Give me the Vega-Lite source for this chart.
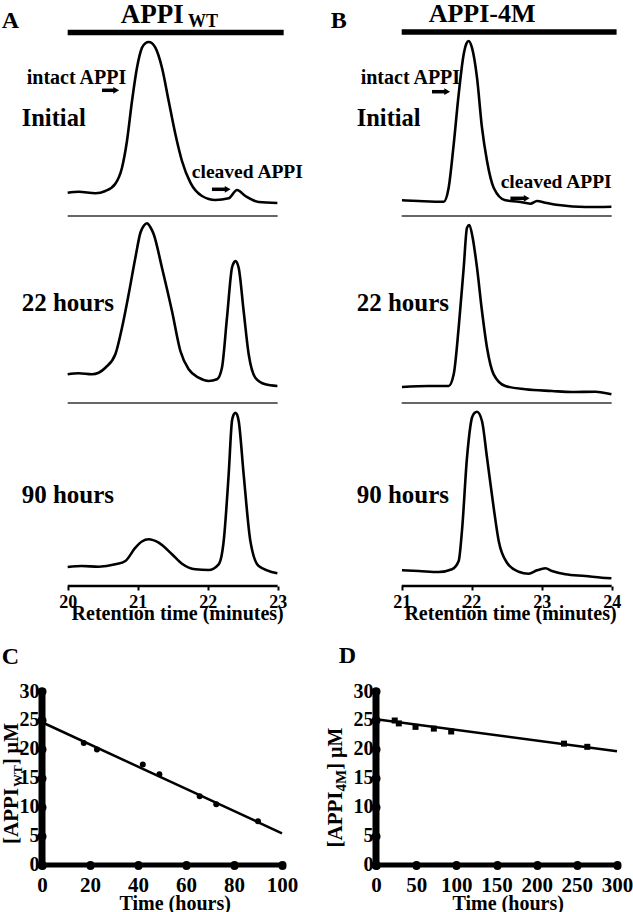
{
"$schema": "https://vega.github.io/schema/vega-lite/v6.json",
"padding": 0,
"background": "white",
"config": {
  "view": {"stroke": null},
  "font": "Liberation Serif",
  "axis": {"labelFont": "Liberation Serif", "titleFont": "Liberation Serif", "labelFontWeight": "bold", "titleFontWeight": "bold", "labelColor": "black", "titleColor": "black", "grid": false, "labelOverlap": false, "labelFlush": false, "labelBound": false},
  "text": {"font": "Liberation Serif", "fontWeight": "bold", "color": "black"}
},
"datasets": {
  "traces": [
    {"variant":"WT","sample":"Initial","rt":20.000,"au":23.3},{"variant":"WT","sample":"Initial","rt":20.157,"au":24.3},{"variant":"WT","sample":"Initial","rt":20.396,"au":22.7},{"variant":"WT","sample":"Initial","rt":20.539,"au":25},{"variant":"WT","sample":"Initial","rt":20.681,"au":32.3},{"variant":"WT","sample":"Initial","rt":20.776,"au":48.3},{"variant":"WT","sample":"Initial","rt":20.847,"au":75},{"variant":"WT","sample":"Initial","rt":20.919,"au":115},{"variant":"WT","sample":"Initial","rt":20.990,"au":148.3},{"variant":"WT","sample":"Initial","rt":21.061,"au":168.3},{"variant":"WT","sample":"Initial","rt":21.110,"au":172.8},{"variant":"WT","sample":"Initial","rt":21.157,"au":174},{"variant":"WT","sample":"Initial","rt":21.205,"au":172.8},{"variant":"WT","sample":"Initial","rt":21.253,"au":168.3},{"variant":"WT","sample":"Initial","rt":21.347,"au":148.3},{"variant":"WT","sample":"Initial","rt":21.443,"au":115},{"variant":"WT","sample":"Initial","rt":21.539,"au":81.7},{"variant":"WT","sample":"Initial","rt":21.633,"au":55},{"variant":"WT","sample":"Initial","rt":21.753,"au":33.3},{"variant":"WT","sample":"Initial","rt":21.919,"au":20},{"variant":"WT","sample":"Initial","rt":22.110,"au":16},{"variant":"WT","sample":"Initial","rt":22.300,"au":17.7},{"variant":"WT","sample":"Initial","rt":22.419,"au":26},{"variant":"WT","sample":"Initial","rt":22.539,"au":20},{"variant":"WT","sample":"Initial","rt":22.729,"au":14},{"variant":"WT","sample":"Initial","rt":22.996,"au":13},
    {"variant":"WT","sample":"22 hours","rt":20.000,"au":28.7},{"variant":"WT","sample":"22 hours","rt":20.157,"au":29.7},{"variant":"WT","sample":"22 hours","rt":20.347,"au":28.7},{"variant":"WT","sample":"22 hours","rt":20.539,"au":35.3},{"variant":"WT","sample":"22 hours","rt":20.681,"au":48.7},{"variant":"WT","sample":"22 hours","rt":20.776,"au":75.3},{"variant":"WT","sample":"22 hours","rt":20.871,"au":108.7},{"variant":"WT","sample":"22 hours","rt":20.967,"au":145.3},{"variant":"WT","sample":"22 hours","rt":21.040,"au":170.5},{"variant":"WT","sample":"22 hours","rt":21.090,"au":177.5},{"variant":"WT","sample":"22 hours","rt":21.133,"au":179.7},{"variant":"WT","sample":"22 hours","rt":21.180,"au":176},{"variant":"WT","sample":"22 hours","rt":21.229,"au":168.7},{"variant":"WT","sample":"22 hours","rt":21.347,"au":135.3},{"variant":"WT","sample":"22 hours","rt":21.490,"au":92},{"variant":"WT","sample":"22 hours","rt":21.610,"au":52},{"variant":"WT","sample":"22 hours","rt":21.729,"au":33.7},{"variant":"WT","sample":"22 hours","rt":21.871,"au":25.3},{"variant":"WT","sample":"22 hours","rt":22.014,"au":22},{"variant":"WT","sample":"22 hours","rt":22.133,"au":23.7},{"variant":"WT","sample":"22 hours","rt":22.204,"au":35.3},{"variant":"WT","sample":"22 hours","rt":22.276,"au":85.3},{"variant":"WT","sample":"22 hours","rt":22.347,"au":135.3},{"variant":"WT","sample":"22 hours","rt":22.375,"au":140.5},{"variant":"WT","sample":"22 hours","rt":22.396,"au":142},{"variant":"WT","sample":"22 hours","rt":22.418,"au":140.5},{"variant":"WT","sample":"22 hours","rt":22.443,"au":135.3},{"variant":"WT","sample":"22 hours","rt":22.514,"au":92},{"variant":"WT","sample":"22 hours","rt":22.586,"au":48.7},{"variant":"WT","sample":"22 hours","rt":22.681,"au":25.3},{"variant":"WT","sample":"22 hours","rt":22.824,"au":18.7},{"variant":"WT","sample":"22 hours","rt":22.996,"au":17},
    {"variant":"WT","sample":"90 hours","rt":20.000,"au":19},{"variant":"WT","sample":"90 hours","rt":20.204,"au":20},{"variant":"WT","sample":"90 hours","rt":20.443,"au":19.3},{"variant":"WT","sample":"90 hours","rt":20.681,"au":21.7},{"variant":"WT","sample":"90 hours","rt":20.824,"au":25},{"variant":"WT","sample":"90 hours","rt":20.967,"au":38.3},{"variant":"WT","sample":"90 hours","rt":21.060,"au":44.5},{"variant":"WT","sample":"90 hours","rt":21.157,"au":46.7},{"variant":"WT","sample":"90 hours","rt":21.300,"au":43.3},{"variant":"WT","sample":"90 hours","rt":21.490,"au":31.7},{"variant":"WT","sample":"90 hours","rt":21.633,"au":22.3},{"variant":"WT","sample":"90 hours","rt":21.824,"au":16.7},{"variant":"WT","sample":"90 hours","rt":22.014,"au":16},{"variant":"WT","sample":"90 hours","rt":22.157,"au":21.7},{"variant":"WT","sample":"90 hours","rt":22.229,"au":45},{"variant":"WT","sample":"90 hours","rt":22.300,"au":111.7},{"variant":"WT","sample":"90 hours","rt":22.347,"au":165},{"variant":"WT","sample":"90 hours","rt":22.372,"au":171.5},{"variant":"WT","sample":"90 hours","rt":22.396,"au":173.3},{"variant":"WT","sample":"90 hours","rt":22.420,"au":171.5},{"variant":"WT","sample":"90 hours","rt":22.443,"au":165},{"variant":"WT","sample":"90 hours","rt":22.514,"au":111.7},{"variant":"WT","sample":"90 hours","rt":22.610,"au":45},{"variant":"WT","sample":"90 hours","rt":22.729,"au":20},{"variant":"WT","sample":"90 hours","rt":22.996,"au":12.7},
    {"variant":"4M","sample":"Initial","rt":21.004,"au":15.7},{"variant":"4M","sample":"Initial","rt":21.243,"au":15},{"variant":"4M","sample":"Initial","rt":21.600,"au":14.3},{"variant":"4M","sample":"Initial","rt":21.671,"au":28.3},{"variant":"4M","sample":"Initial","rt":21.743,"au":71.7},{"variant":"4M","sample":"Initial","rt":21.814,"au":121.7},{"variant":"4M","sample":"Initial","rt":21.886,"au":161.7},{"variant":"4M","sample":"Initial","rt":21.925,"au":172.5},{"variant":"4M","sample":"Initial","rt":21.957,"au":175},{"variant":"4M","sample":"Initial","rt":22.004,"au":168.3},{"variant":"4M","sample":"Initial","rt":22.076,"au":138.3},{"variant":"4M","sample":"Initial","rt":22.147,"au":88.3},{"variant":"4M","sample":"Initial","rt":22.219,"au":55},{"variant":"4M","sample":"Initial","rt":22.314,"au":28.3},{"variant":"4M","sample":"Initial","rt":22.481,"au":15.7},{"variant":"4M","sample":"Initial","rt":22.671,"au":14.3},{"variant":"4M","sample":"Initial","rt":22.839,"au":12.3},{"variant":"4M","sample":"Initial","rt":22.933,"au":15},{"variant":"4M","sample":"Initial","rt":23.053,"au":13.3},{"variant":"4M","sample":"Initial","rt":23.243,"au":11},{"variant":"4M","sample":"Initial","rt":23.624,"au":9},{"variant":"4M","sample":"Initial","rt":23.996,"au":9.3},
    {"variant":"4M","sample":"22 hours","rt":21.004,"au":16},{"variant":"4M","sample":"22 hours","rt":21.386,"au":17},{"variant":"4M","sample":"22 hours","rt":21.671,"au":17},{"variant":"4M","sample":"22 hours","rt":21.743,"au":28.7},{"variant":"4M","sample":"22 hours","rt":21.814,"au":75.3},{"variant":"4M","sample":"22 hours","rt":21.886,"au":135.3},{"variant":"4M","sample":"22 hours","rt":21.933,"au":175.3},{"variant":"4M","sample":"22 hours","rt":21.967,"au":178},{"variant":"4M","sample":"22 hours","rt":22.014,"au":165.3},{"variant":"4M","sample":"22 hours","rt":22.076,"au":135.3},{"variant":"4M","sample":"22 hours","rt":22.147,"au":92},{"variant":"4M","sample":"22 hours","rt":22.219,"au":55.3},{"variant":"4M","sample":"22 hours","rt":22.314,"au":28.7},{"variant":"4M","sample":"22 hours","rt":22.481,"au":17},{"variant":"4M","sample":"22 hours","rt":22.767,"au":13.7},{"variant":"4M","sample":"22 hours","rt":23.147,"au":12},{"variant":"4M","sample":"22 hours","rt":23.433,"au":11},{"variant":"4M","sample":"22 hours","rt":23.767,"au":11.3},{"variant":"4M","sample":"22 hours","rt":23.996,"au":8.7},
    {"variant":"4M","sample":"90 hours","rt":21.004,"au":15.7},{"variant":"4M","sample":"90 hours","rt":21.243,"au":15},{"variant":"4M","sample":"90 hours","rt":21.529,"au":14},{"variant":"4M","sample":"90 hours","rt":21.719,"au":16.7},{"variant":"4M","sample":"90 hours","rt":21.814,"au":25},{"variant":"4M","sample":"90 hours","rt":21.861,"au":55},{"variant":"4M","sample":"90 hours","rt":21.933,"au":128.3},{"variant":"4M","sample":"90 hours","rt":22.004,"au":168.3},{"variant":"4M","sample":"90 hours","rt":22.040,"au":173},{"variant":"4M","sample":"90 hours","rt":22.076,"au":174.3},{"variant":"4M","sample":"90 hours","rt":22.147,"au":165},{"variant":"4M","sample":"90 hours","rt":22.219,"au":128.3},{"variant":"4M","sample":"90 hours","rt":22.314,"au":78.3},{"variant":"4M","sample":"90 hours","rt":22.386,"au":45},{"variant":"4M","sample":"90 hours","rt":22.504,"au":23.3},{"variant":"4M","sample":"90 hours","rt":22.671,"au":14.3},{"variant":"4M","sample":"90 hours","rt":22.814,"au":12.3},{"variant":"4M","sample":"90 hours","rt":22.933,"au":15.7},{"variant":"4M","sample":"90 hours","rt":23.053,"au":17.7},{"variant":"4M","sample":"90 hours","rt":23.147,"au":15},{"variant":"4M","sample":"90 hours","rt":23.339,"au":11.7},{"variant":"4M","sample":"90 hours","rt":23.624,"au":10},{"variant":"4M","sample":"90 hours","rt":23.861,"au":8.3},{"variant":"4M","sample":"90 hours","rt":23.996,"au":7.7}
  ],
  "kinetics": [
    {"variant":"WT","time_h":0,"conc_uM":24.8},{"variant":"WT","time_h":17.4,"conc_uM":21.0},{"variant":"WT","time_h":22.9,"conc_uM":19.9},{"variant":"WT","time_h":42,"conc_uM":17.3},{"variant":"WT","time_h":48.9,"conc_uM":15.6},{"variant":"WT","time_h":65.7,"conc_uM":11.8},{"variant":"WT","time_h":72.6,"conc_uM":10.4},{"variant":"WT","time_h":90,"conc_uM":7.5},
    {"variant":"4M","time_h":0,"conc_uM":25.0},{"variant":"4M","time_h":23.3,"conc_uM":24.9},{"variant":"4M","time_h":28.4,"conc_uM":24.4},{"variant":"4M","time_h":49.2,"conc_uM":23.8},{"variant":"4M","time_h":72,"conc_uM":23.5},{"variant":"4M","time_h":93.6,"conc_uM":23.0},{"variant":"4M","time_h":234,"conc_uM":20.9},{"variant":"4M","time_h":263,"conc_uM":20.35}
  ],
  "fits": [
    {"variant":"WT","time_h":0,"conc_uM":24.6},{"variant":"WT","time_h":100,"conc_uM":5.4},
    {"variant":"4M","time_h":0,"conc_uM":25.1},{"variant":"4M","time_h":300,"conc_uM":19.6}
  ]
},
"columns": 2,
"spacing": {"row": 0, "column": 94},
"bounds": "flush",
"concat": [
  {"width": 240, "height": 185, "layer": [
    {"data": {"name": "traces"}, "transform": [{"filter": "datum.variant === 'WT' && datum.sample === 'Initial'"}], "mark": {"type": "line", "interpolate": "monotone", "color": "black", "strokeWidth": 2.6}, "encoding": {"x": {"field": "rt", "type": "quantitative", "scale": {"domain": [19.633, 23.062], "nice": false}, "axis": null}, "y": {"field": "au", "type": "quantitative", "scale": {"domain": [0, 185], "nice": false}, "axis": null}}},
    {"data": {"values": [{}]}, "mark": {"type": "rule", "color": "black", "strokeWidth": 5.5}, "encoding": {"x": {"datum": 20, "axis": null}, "x2": {"datum": 23.086}, "y": {"datum": 183.5, "axis": null}}},
    {"data": {"values": [{}]}, "mark": {"type": "text", "text": "A", "fontSize": 24, "align": "left", "baseline": "alphabetic"}, "encoding": {"x": {"datum": 19.057, "axis": null}, "y": {"datum": 188, "axis": null}}},
    {"data": {"values": [{}]}, "mark": {"type": "text", "text": "APPI", "fontSize": 27, "align": "left", "baseline": "alphabetic"}, "encoding": {"x": {"datum": 20.757, "axis": null}, "y": {"datum": 193.3, "axis": null}}},
    {"data": {"values": [{}]}, "mark": {"type": "text", "text": "WT", "fontSize": 18, "align": "left", "baseline": "alphabetic"}, "encoding": {"x": {"datum": 21.72, "axis": null}, "y": {"datum": 189, "axis": null}}},
    {"data": {"values": [{}]}, "mark": {"type": "text", "text": "intact APPI", "fontSize": 20, "align": "left", "baseline": "alphabetic"}, "encoding": {"x": {"datum": 19.415, "axis": null}, "y": {"datum": 132, "axis": null}}},
    {"data": {"values": [{}]}, "mark": {"type": "text", "text": "Initial", "fontSize": 24.5, "align": "left", "baseline": "alphabetic"}, "encoding": {"x": {"datum": 19.343, "axis": null}, "y": {"datum": 90, "axis": null}}},
    {"data": {"values": [{}]}, "mark": {"type": "text", "text": "cleaved APPI", "fontSize": 19.5, "align": "left", "baseline": "alphabetic"}, "encoding": {"x": {"datum": 21.774, "axis": null}, "y": {"datum": 38.3, "axis": null}}},
    {"data": {"values": [{}]}, "mark": {"type": "rule", "color": "black", "strokeWidth": 3.5}, "encoding": {"x": {"datum": 20.49, "axis": null}, "x2": {"datum": 20.665}, "y": {"datum": 125.7, "axis": null}}},
    {"data": {"values": [{}]}, "mark": {"type": "point", "shape": "triangle-right", "filled": true, "color": "black", "opacity": 1, "size": 45}, "encoding": {"x": {"datum": 20.693, "axis": null}, "y": {"datum": 125.7, "axis": null}}},
    {"data": {"values": [{}]}, "mark": {"type": "rule", "color": "black", "strokeWidth": 3.5}, "encoding": {"x": {"datum": 22.061, "axis": null}, "x2": {"datum": 22.258}, "y": {"datum": 26.7, "axis": null}}},
    {"data": {"values": [{}]}, "mark": {"type": "point", "shape": "triangle-right", "filled": true, "color": "black", "opacity": 1, "size": 45}, "encoding": {"x": {"datum": 22.286, "axis": null}, "y": {"datum": 26.7, "axis": null}}}
  ]},
  {"width": 241, "height": 185, "layer": [
    {"data": {"name": "traces"}, "transform": [{"filter": "datum.variant === '4M' && datum.sample === 'Initial'"}], "mark": {"type": "line", "interpolate": "monotone", "color": "black", "strokeWidth": 2.6}, "encoding": {"x": {"field": "rt", "type": "quantitative", "scale": {"domain": [20.633, 24.076], "nice": false}, "axis": null}, "y": {"field": "au", "type": "quantitative", "scale": {"domain": [0, 185], "nice": false}, "axis": null}}},
    {"data": {"values": [{}]}, "mark": {"type": "rule", "color": "black", "strokeWidth": 5.5}, "encoding": {"x": {"datum": 21, "axis": null}, "x2": {"datum": 24.07}, "y": {"datum": 184, "axis": null}}},
    {"data": {"values": [{}]}, "mark": {"type": "text", "text": "B", "fontSize": 24, "align": "left", "baseline": "alphabetic"}, "encoding": {"x": {"datum": 19.986, "axis": null}, "y": {"datum": 188, "axis": null}}},
    {"data": {"values": [{}]}, "mark": {"type": "text", "text": "APPI-4M", "fontSize": 26, "align": "left", "baseline": "alphabetic"}, "encoding": {"x": {"datum": 21.386, "axis": null}, "y": {"datum": 194, "axis": null}}},
    {"data": {"values": [{}]}, "mark": {"type": "text", "text": "intact APPI", "fontSize": 20, "align": "left", "baseline": "alphabetic"}, "encoding": {"x": {"datum": 20.414, "axis": null}, "y": {"datum": 132, "axis": null}}},
    {"data": {"values": [{}]}, "mark": {"type": "text", "text": "Initial", "fontSize": 24.5, "align": "left", "baseline": "alphabetic"}, "encoding": {"x": {"datum": 20.357, "axis": null}, "y": {"datum": 90, "axis": null}}},
    {"data": {"values": [{}]}, "mark": {"type": "text", "text": "cleaved APPI", "fontSize": 19.5, "align": "left", "baseline": "alphabetic"}, "encoding": {"x": {"datum": 22.414, "axis": null}, "y": {"datum": 28.3, "axis": null}}},
    {"data": {"values": [{}]}, "mark": {"type": "rule", "color": "black", "strokeWidth": 3.5}, "encoding": {"x": {"datum": 21.433, "axis": null}, "x2": {"datum": 21.62}, "y": {"datum": 124.3, "axis": null}}},
    {"data": {"values": [{}]}, "mark": {"type": "point", "shape": "triangle-right", "filled": true, "color": "black", "opacity": 1, "size": 45}, "encoding": {"x": {"datum": 21.65, "axis": null}, "y": {"datum": 124.3, "axis": null}}},
    {"data": {"values": [{}]}, "mark": {"type": "rule", "color": "black", "strokeWidth": 3.5}, "encoding": {"x": {"datum": 22.553, "axis": null}, "x2": {"datum": 22.75}, "y": {"datum": 17.7, "axis": null}}},
    {"data": {"values": [{}]}, "mark": {"type": "point", "shape": "triangle-right", "filled": true, "color": "black", "opacity": 1, "size": 45}, "encoding": {"x": {"datum": 22.786, "axis": null}, "y": {"datum": 17.7, "axis": null}}}
  ]},
  {"width": 240, "height": 187, "layer": [
    {"data": {"name": "traces"}, "transform": [{"filter": "datum.variant === 'WT' && datum.sample === '22 hours'"}], "mark": {"type": "line", "interpolate": "monotone", "color": "black", "strokeWidth": 2.6}, "encoding": {"x": {"field": "rt", "type": "quantitative", "scale": {"domain": [19.633, 23.062], "nice": false}, "axis": null}, "y": {"field": "au", "type": "quantitative", "scale": {"domain": [0, 187], "nice": false}, "axis": null}}},
    {"data": {"values": [{}]}, "mark": {"type": "rule", "color": "#333333", "strokeWidth": 1.6}, "encoding": {"x": {"datum": 20, "axis": null}, "x2": {"datum": 23}, "y": {"datum": 187, "axis": null}}},
    {"data": {"values": [{}]}, "mark": {"type": "text", "text": "22 hours", "fontSize": 25, "align": "left", "baseline": "alphabetic"}, "encoding": {"x": {"datum": 19.343, "axis": null}, "y": {"datum": 92, "axis": null}}}
  ]},
  {"width": 241, "height": 187, "layer": [
    {"data": {"name": "traces"}, "transform": [{"filter": "datum.variant === '4M' && datum.sample === '22 hours'"}], "mark": {"type": "line", "interpolate": "monotone", "color": "black", "strokeWidth": 2.6}, "encoding": {"x": {"field": "rt", "type": "quantitative", "scale": {"domain": [20.633, 24.076], "nice": false}, "axis": null}, "y": {"field": "au", "type": "quantitative", "scale": {"domain": [0, 187], "nice": false}, "axis": null}}},
    {"data": {"values": [{}]}, "mark": {"type": "rule", "color": "#333333", "strokeWidth": 1.6}, "encoding": {"x": {"datum": 21, "axis": null}, "x2": {"datum": 24}, "y": {"datum": 187, "axis": null}}},
    {"data": {"values": [{}]}, "mark": {"type": "text", "text": "22 hours", "fontSize": 25, "align": "left", "baseline": "alphabetic"}, "encoding": {"x": {"datum": 20.357, "axis": null}, "y": {"datum": 92, "axis": null}}}
  ]},
  {"width": 240, "height": 183, "layer": [
    {"data": {"name": "traces"}, "transform": [{"filter": "datum.variant === 'WT' && datum.sample === '90 hours'"}], "mark": {"type": "line", "interpolate": "monotone", "color": "black", "strokeWidth": 2.6}, "encoding": {"x": {"field": "rt", "type": "quantitative", "scale": {"domain": [19.633, 23.062], "nice": false}, "axis": {"values": [20, 21, 22, 23], "format": "d", "domain": false, "ticks": true, "tickSize": 4, "tickWidth": 2, "tickColor": "black", "labelFontSize": 18, "labelPadding": 3, "title": "Retention time (minutes)", "titleFontSize": 20, "titleX": 135.2, "titleY": 33.5, "titleBaseline": "alphabetic", "titleAlign": "center"}}, "y": {"field": "au", "type": "quantitative", "scale": {"domain": [0, 183], "nice": false}, "axis": null}}},
    {"data": {"values": [{}]}, "mark": {"type": "rule", "color": "#333333", "strokeWidth": 1.6}, "encoding": {"x": {"datum": 20}, "x2": {"datum": 23}, "y": {"datum": 183, "axis": null}}},
    {"data": {"values": [{}]}, "mark": {"type": "rule", "color": "black", "strokeWidth": 2.5}, "encoding": {"x": {"datum": 20}, "x2": {"datum": 23}, "y": {"datum": 0, "axis": null}}},
    {"data": {"values": [{}]}, "mark": {"type": "text", "text": "90 hours", "fontSize": 25, "align": "left", "baseline": "alphabetic"}, "encoding": {"x": {"datum": 19.343}, "y": {"datum": 83, "axis": null}}}
  ]},
  {"width": 241, "height": 183, "layer": [
    {"data": {"name": "traces"}, "transform": [{"filter": "datum.variant === '4M' && datum.sample === '90 hours'"}], "mark": {"type": "line", "interpolate": "monotone", "color": "black", "strokeWidth": 2.6}, "encoding": {"x": {"field": "rt", "type": "quantitative", "scale": {"domain": [20.633, 24.076], "nice": false}, "axis": {"values": [21, 22, 23, 24], "format": "d", "domain": false, "ticks": true, "tickSize": 4, "tickWidth": 2, "tickColor": "black", "labelFontSize": 18, "labelPadding": 3, "title": "Retention time (minutes)", "titleFontSize": 20, "titleX": 134, "titleY": 33.5, "titleBaseline": "alphabetic", "titleAlign": "center"}}, "y": {"field": "au", "type": "quantitative", "scale": {"domain": [0, 183], "nice": false}, "axis": null}}},
    {"data": {"values": [{}]}, "mark": {"type": "rule", "color": "#333333", "strokeWidth": 1.6}, "encoding": {"x": {"datum": 21}, "x2": {"datum": 24}, "y": {"datum": 183, "axis": null}}},
    {"data": {"values": [{}]}, "mark": {"type": "rule", "color": "black", "strokeWidth": 2.5}, "encoding": {"x": {"datum": 21}, "x2": {"datum": 24}, "y": {"datum": 0, "axis": null}}},
    {"data": {"values": [{}]}, "mark": {"type": "text", "text": "90 hours", "fontSize": 25, "align": "left", "baseline": "alphabetic"}, "encoding": {"x": {"datum": 20.357}, "y": {"datum": 83, "axis": null}}}
  ]},
  {"width": 240, "height": 278.5, "layer": [
    {"data": {"values": [{}]}, "mark": {"type": "rule", "color": "black", "strokeWidth": 7, "strokeCap": "round"}, "encoding": {
      "x": {"datum": 0, "type": "quantitative", "scale": {"domain": [0, 100], "nice": false}, "axis": {"values": [0, 20, 40, 60, 80, 100], "format": "d", "domain": true, "domainWidth": 5, "domainCap": "round", "domainColor": "black", "tickSize": 1, "tickWidth": 8, "tickCap": "round", "tickColor": "black", "labelFontSize": 21, "labelPadding": 9, "title": "Time (hours)", "titleFontSize": 20, "titleX": 132.7, "titleY": 44.5, "titleBaseline": "alphabetic", "titleAlign": "center"}},
      "y": {"datum": 0, "type": "quantitative", "scale": {"domain": [0, 48.16], "nice": false}, "axis": {"values": [0, 5, 10, 15, 20, 25, 30], "format": "d", "domain": false, "tickSize": 1, "tickWidth": 8, "tickCap": "round", "tickColor": "black", "labelFontSize": 20, "labelPadding": 2, "title": null}},
      "y2": {"datum": 30}}},
    {"data": {"name": "fits"}, "transform": [{"filter": "datum.variant === 'WT'"}], "mark": {"type": "line", "color": "black", "strokeWidth": 2.5}, "encoding": {"x": {"field": "time_h", "type": "quantitative"}, "y": {"field": "conc_uM", "type": "quantitative"}}},
    {"data": {"name": "kinetics"}, "transform": [{"filter": "datum.variant === 'WT'"}], "mark": {"type": "point", "shape": "circle", "filled": true, "color": "black", "opacity": 1, "size": 36}, "encoding": {"x": {"field": "time_h", "type": "quantitative"}, "y": {"field": "conc_uM", "type": "quantitative"}}},
    {"data": {"values": [{}]}, "mark": {"type": "text", "text": "C", "fontSize": 24, "align": "left", "baseline": "alphabetic"}, "encoding": {"x": {"datum": -16.8}, "y": {"datum": 34.7}}},
    {"data": {"values": [{}]}, "mark": {"type": "text", "text": "[APPI", "fontSize": 21, "angle": 270, "align": "left", "baseline": "alphabetic"}, "encoding": {"x": {"datum": -10.1}, "y": {"datum": 3.55}}},
    {"data": {"values": [{}]}, "mark": {"type": "text", "text": "WT", "fontSize": 13, "angle": 270, "align": "left", "baseline": "alphabetic"}, "encoding": {"x": {"datum": -8.25}, "y": {"datum": 13.4}}},
    {"data": {"values": [{}]}, "mark": {"type": "text", "text": "] µM", "fontSize": 20, "angle": 270, "align": "left", "baseline": "alphabetic"}, "encoding": {"x": {"datum": -10.1}, "y": {"datum": 17.2}}}
  ]},
  {"width": 241, "height": 278.5, "layer": [
    {"data": {"values": [{}]}, "mark": {"type": "rule", "color": "black", "strokeWidth": 7, "strokeCap": "round"}, "encoding": {
      "x": {"datum": 0, "type": "quantitative", "scale": {"domain": [0, 300], "nice": false}, "axis": {"values": [0, 50, 100, 150, 200, 250, 300], "format": "d", "domain": true, "domainWidth": 5, "domainCap": "round", "domainColor": "black", "tickSize": 1, "tickWidth": 8, "tickCap": "round", "tickColor": "black", "labelFontSize": 21, "labelPadding": 9, "title": "Time (hours)", "titleFontSize": 20, "titleX": 131.7, "titleY": 44.5, "titleBaseline": "alphabetic", "titleAlign": "center"}},
      "y": {"datum": 0, "type": "quantitative", "scale": {"domain": [0, 48.16], "nice": false}, "axis": {"values": [0, 5, 10, 15, 20, 25, 30], "format": "d", "domain": false, "tickSize": 1, "tickWidth": 8, "tickCap": "round", "tickColor": "black", "labelFontSize": 20, "labelPadding": 2, "title": null}},
      "y2": {"datum": 30}}},
    {"data": {"name": "fits"}, "transform": [{"filter": "datum.variant === '4M'"}], "mark": {"type": "line", "color": "black", "strokeWidth": 2.5}, "encoding": {"x": {"field": "time_h", "type": "quantitative"}, "y": {"field": "conc_uM", "type": "quantitative"}}},
    {"data": {"name": "kinetics"}, "transform": [{"filter": "datum.variant === '4M'"}], "mark": {"type": "point", "shape": "square", "filled": true, "color": "black", "opacity": 1, "size": 36}, "encoding": {"x": {"field": "time_h", "type": "quantitative"}, "y": {"field": "conc_uM", "type": "quantitative"}}},
    {"data": {"values": [{}]}, "mark": {"type": "text", "text": "D", "fontSize": 24, "align": "left", "baseline": "alphabetic"}, "encoding": {"x": {"datum": -46.4}, "y": {"datum": 34.8}}},
    {"data": {"values": [{}]}, "mark": {"type": "text", "text": "[APPI", "fontSize": 21, "angle": 270, "align": "left", "baseline": "alphabetic"}, "encoding": {"x": {"datum": -42.7}, "y": {"datum": 2.94}}},
    {"data": {"values": [{}]}, "mark": {"type": "text", "text": "4M", "fontSize": 15, "angle": 270, "align": "left", "baseline": "alphabetic"}, "encoding": {"x": {"datum": -37.7}, "y": {"datum": 12.64}}},
    {"data": {"values": [{}]}, "mark": {"type": "text", "text": "] µM", "fontSize": 20, "angle": 270, "align": "left", "baseline": "alphabetic"}, "encoding": {"x": {"datum": -42.7}, "y": {"datum": 16.4}}}
  ]}
]
}
